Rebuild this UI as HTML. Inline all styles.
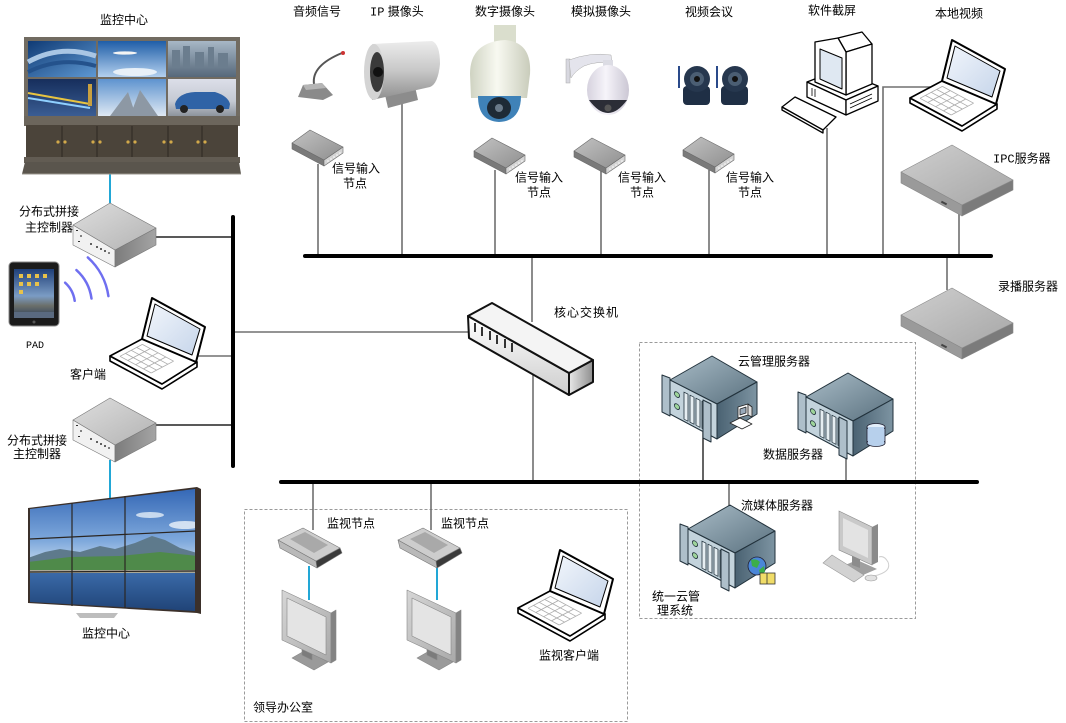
<!DOCTYPE html>
<html><head><meta charset="utf-8">
<style>
html,body{margin:0;padding:0;background:#fff;}
svg{display:block;}
text{font-family:"Liberation Sans","Noto Sans CJK SC",sans-serif;font-size:12px;fill:#000;}
.m{font-family:"Liberation Mono","Noto Sans CJK SC",monospace;}
</style></head><body>
<svg width="1066" height="723" viewBox="0 0 1066 723" xmlns="http://www.w3.org/2000/svg">
<defs>
<linearGradient id="gScreen" x1="0" y1="0" x2="1" y2="1"><stop offset="0" stop-color="#f2f6fc"/><stop offset="1" stop-color="#c6d5ea"/></linearGradient>
<linearGradient id="gSrvTop" x1="0" y1="0" x2="1" y2="1"><stop offset="0" stop-color="#a9bcc7"/><stop offset="1" stop-color="#5a717f"/></linearGradient>
<linearGradient id="gSrvRight" x1="0" y1="0" x2="1" y2="0"><stop offset="0" stop-color="#4a6272"/><stop offset="1" stop-color="#7d94a2"/></linearGradient>
<linearGradient id="gNodeTop" x1="0" y1="0" x2="1" y2="1"><stop offset="0" stop-color="#c2c2c2"/><stop offset="1" stop-color="#8f8f8f"/></linearGradient>
<linearGradient id="gSlabTop" x1="0" y1="0" x2="1" y2="1"><stop offset="0" stop-color="#cfcfcf"/><stop offset="1" stop-color="#a6a6a6"/></linearGradient>
<linearGradient id="gCtrlTop" x1="0" y1="0" x2="1" y2="1"><stop offset="0" stop-color="#dedede"/><stop offset="1" stop-color="#b3b3b3"/></linearGradient>
<linearGradient id="gCtrlR" x1="0" y1="0" x2="1" y2="0"><stop offset="0" stop-color="#7c7c7c"/><stop offset="1" stop-color="#a4a4a4"/></linearGradient>
<linearGradient id="gSwFront" x1="0" y1="0" x2="0" y2="1"><stop offset="0" stop-color="#ffffff"/><stop offset="1" stop-color="#cdcdcd"/></linearGradient>
<linearGradient id="gSwEnd" x1="0" y1="0" x2="1" y2="0"><stop offset="0" stop-color="#e8e8e8"/><stop offset="1" stop-color="#8e8e8e"/></linearGradient>
<linearGradient id="gSky" x1="0" y1="0" x2="0" y2="1"><stop offset="0" stop-color="#2f63b3"/><stop offset="0.7" stop-color="#7fa9dc"/><stop offset="1" stop-color="#c4d8ee"/></linearGradient>
<linearGradient id="gWater" x1="0" y1="0" x2="0" y2="1"><stop offset="0" stop-color="#3a6aa8"/><stop offset="1" stop-color="#1b3c6e"/></linearGradient>
<linearGradient id="gCam" x1="0" y1="0" x2="0" y2="1"><stop offset="0" stop-color="#ececec"/><stop offset="0.5" stop-color="#c8c8c8"/><stop offset="1" stop-color="#8e8e8e"/></linearGradient>
<linearGradient id="gDome" x1="0" y1="0" x2="1" y2="0"><stop offset="0" stop-color="#cfd3c2"/><stop offset="0.45" stop-color="#f8f9f1"/><stop offset="1" stop-color="#c9ccbb"/></linearGradient>
<linearGradient id="gDome2" x1="0" y1="0" x2="1" y2="0"><stop offset="0" stop-color="#d6d2de"/><stop offset="0.45" stop-color="#f6f4fa"/><stop offset="1" stop-color="#cbc7d4"/></linearGradient>
<linearGradient id="gPad" x1="0" y1="0" x2="0" y2="1"><stop offset="0" stop-color="#1f3f78"/><stop offset="0.55" stop-color="#7b9cc4"/><stop offset="0.75" stop-color="#6b6f6a"/><stop offset="1" stop-color="#2a3d5c"/></linearGradient>
<linearGradient id="gMon" x1="0" y1="0" x2="1" y2="1"><stop offset="0" stop-color="#d6d6d6"/><stop offset="1" stop-color="#a9a9a9"/></linearGradient>
<clipPath id="cWall"><polygon points="30,509 195,489 195,611 30,602"/></clipPath>

<g id="laptop" stroke="#000" stroke-linejoin="round">
 <polygon points="0,58 52,86 87,64 87,69 52,91 0,63" fill="#fff" stroke-width="1.6"/>
 <polygon points="0,58 32,41 87,64 52,86" fill="#fff" stroke-width="1.6"/>
 <g stroke="#aaa" stroke-width="0.8" fill="none">
  <line x1="10" y1="58.3" x2="41.2" y2="75"/><line x1="15.4" y1="55.4" x2="46.6" y2="72.2"/>
  <line x1="21.2" y1="52.3" x2="52.4" y2="69.1"/><line x1="26.6" y1="49.4" x2="57.8" y2="66.2"/>
  <line x1="32.4" y1="46.4" x2="63.6" y2="63.2"/>
  <line x1="10" y1="58.3" x2="32.4" y2="46.4"/><line x1="17.8" y1="62.5" x2="40.2" y2="50.6"/>
  <line x1="25.6" y1="66.7" x2="48" y2="54.8"/><line x1="33.4" y1="70.9" x2="55.8" y2="59"/>
  <line x1="41.2" y1="75" x2="63.6" y2="63.2"/>
 </g>
 <polygon points="32,41 42,0 95,29 86,64" fill="#fff" stroke-width="2"/>
 <polygon points="37,38 45,6 90,31 82,57" fill="url(#gScreen)" stroke-width="1"/>
</g>

<g id="server" stroke="#22323c" stroke-width="1" stroke-linejoin="round">
 <polygon points="8,24 50,0 95,26 55,48" fill="url(#gSrvTop)"/>
 <polygon points="55,48 95,26 95,58 55,83" fill="url(#gSrvRight)"/>
 <polygon points="8,24 55,48 55,83 8,58" fill="#c3d3dc"/>
 <g transform="matrix(1,0.51,0,1,8,24)" stroke-width="0.8">
  <circle cx="7" cy="11" r="2.6" fill="#9ed49a"/>
  <circle cx="7" cy="23" r="2.6" fill="#9ed49a"/>
  <rect x="14" y="5" width="4" height="27" fill="#e6eef2"/>
  <rect x="20" y="5" width="4" height="27" fill="#e6eef2"/>
  <rect x="26" y="5" width="4" height="27" fill="#e6eef2"/>
  <rect x="32" y="5" width="4" height="27" fill="#e6eef2"/>
 </g>
 <polygon points="0,19 8,22 8,60 0,56" fill="#aebfca"/>
 <polygon points="41,44 49,48 49,86 41,82" fill="#aebfca"/>
</g>

<g id="node" stroke="#6a6a6a" stroke-width="0.6" stroke-linejoin="round">
 <polygon points="0,13 32,30 32,36 0,19" fill="#7a7a7a"/>
 <polygon points="32,30 51,17 51,23 32,36" fill="#d4d4d4"/>
 <polygon points="18,0 51,17 32,30 0,13" fill="url(#gNodeTop)"/>
 <g fill="#fff" stroke="none"><circle cx="36" cy="31" r="0.8"/><circle cx="39" cy="29" r="0.8"/><circle cx="42" cy="27" r="0.8"/><circle cx="45" cy="25" r="0.8"/><circle cx="48" cy="23" r="0.8"/></g>
</g>

<g id="slab" stroke="#888" stroke-width="0.6" stroke-linejoin="round">
 <polygon points="0,27 61,60 61,71 0,38" fill="#9a9a9a"/>
 <polygon points="61,60 112,35 112,45 61,71" fill="#7b7b7b"/>
 <polygon points="51,0 112,35 61,60 0,27" fill="url(#gSlabTop)"/>
 <rect x="40" y="57" width="6" height="2" fill="#444" stroke="none" transform="rotate(28 43 58)"/>
</g>

<g id="ctrl" stroke="#777" stroke-width="0.6" stroke-linejoin="round">
 <polygon points="0,22 42,47 42,64 0,42" fill="#f1f1f1"/>
 <polygon points="42,47 83,25 83,42 42,64" fill="url(#gCtrlR)"/>
 <polygon points="37,0 83,25 42,47 0,22" fill="url(#gCtrlTop)"/>
 <g fill="#333" stroke="none"><circle cx="8" cy="33" r="0.9"/><circle cx="18" cy="41" r="1"/><circle cx="24" cy="44" r="1"/><circle cx="28" cy="46" r="1"/><circle cx="32" cy="48" r="1"/><circle cx="36" cy="50" r="0.9"/><rect x="3" y="27" width="2" height="1"/><rect x="5" y="38" width="2" height="1"/></g>
</g>

<g id="mnode" stroke="#777" stroke-width="0.6" stroke-linejoin="round">
 <polygon points="0,12 38,33 39,40 2,20" fill="#b9b9b9"/>
 <polygon points="38,33 62,20 64,25 39,40" fill="#3a3a3a"/>
 <polygon points="0,12 25,0 62,20 38,33" fill="#cdcdcd"/>
 <polygon points="12,11 27,4 50,17 36,25" fill="#a9a9a9" stroke="none"/>
</g>

<g id="monitor" stroke="#888" stroke-width="0.6" stroke-linejoin="round">
 <polygon points="10,70 24,62 46,74 32,82" fill="#9a9a9a"/>
 <polygon points="20,56 30,61 30,72 20,67" fill="#7c7c7c"/>
 <polygon points="0,2 49,25 49,75 0,52" fill="url(#gMon)"/>
 <polygon points="49,25 54,22 54,72 49,75" fill="#838383"/>
 <polygon points="5,10 44,29 44,67 5,48" fill="#e4e4e4"/>
</g>
</defs>

<!-- dashed boxes -->
<rect x="639.5" y="342.5" width="276" height="276" fill="none" stroke="#9a9a9a" stroke-dasharray="3,2"/>
<rect x="244.5" y="509.5" width="383" height="212" fill="none" stroke="#9a9a9a" stroke-dasharray="3,2"/>

<!-- connectors -->
<g stroke="#707070" stroke-width="1.6" fill="none">
 <line x1="318" y1="164" x2="318" y2="256"/>
 <line x1="402" y1="104" x2="402" y2="256"/>
 <line x1="495" y1="170" x2="495" y2="256"/>
 <line x1="601" y1="170" x2="601" y2="256"/>
 <line x1="709" y1="170" x2="709" y2="256"/>
 <line x1="827" y1="128" x2="827" y2="256"/>
 <polyline points="883,256 883,87 930,87"/>
 <line x1="959" y1="212" x2="959" y2="256"/>
 <line x1="947" y1="256" x2="947" y2="290"/>
 <line x1="532" y1="256" x2="532" y2="322"/>
 <line x1="533" y1="372" x2="533" y2="482"/>
 <line x1="198" y1="356" x2="233" y2="356"/>
 <line x1="233" y1="332" x2="470" y2="332"/>
 <line x1="313" y1="482" x2="313" y2="530"/>
 <line x1="431" y1="482" x2="431" y2="530"/>
 <line x1="846" y1="450" x2="846" y2="482"/>
 <line x1="729" y1="482" x2="729" y2="508"/>
</g>
<g stroke="#222" stroke-width="1.4">
 <line x1="155" y1="237" x2="233" y2="237"/>
 <line x1="155" y1="425" x2="233" y2="425"/>
 <line x1="703" y1="432" x2="703" y2="482"/>
</g>
<g stroke="#22a7d6" stroke-width="2">
 <line x1="110" y1="174" x2="110" y2="206"/>
 <line x1="110" y1="460" x2="110" y2="499"/>
 <line x1="309" y1="566" x2="309" y2="600"/>
 <line x1="437" y1="566" x2="437" y2="600"/>
</g>
<g stroke="#000" stroke-width="4" stroke-linecap="round">
 <line x1="305" y1="256" x2="991" y2="256"/>
 <line x1="233" y1="217" x2="233" y2="466"/>
 <line x1="281" y1="482" x2="977" y2="482"/>
</g>

<!-- top-left video wall -->
<rect x="24" y="37" width="216" height="84" fill="#716b61"/>
<linearGradient id="s1" x1="0" y1="0" x2="1" y2="1"><stop offset="0" stop-color="#0f3a74"/><stop offset="1" stop-color="#5e98d2"/></linearGradient>
<rect x="28" y="41" width="68" height="36" fill="url(#s1)"/>
<path d="M28,62 Q60,44 96,56" stroke="#a9c6e4" stroke-width="5" fill="none"/>
<path d="M28,72 Q60,56 96,66" stroke="#24528c" stroke-width="4" fill="none"/>
<linearGradient id="s2" x1="0" y1="0" x2="0" y2="1"><stop offset="0" stop-color="#1f5ea8"/><stop offset="1" stop-color="#b3d0ee"/></linearGradient>
<rect x="98" y="41" width="68" height="36" fill="url(#s2)"/>
<ellipse cx="125" cy="53" rx="12" ry="1.6" fill="#f4f4f4"/>
<ellipse cx="135" cy="72" rx="22" ry="4" fill="#e8f0f8"/>
<linearGradient id="s3" x1="0" y1="0" x2="0" y2="1"><stop offset="0" stop-color="#a7b7c6"/><stop offset="1" stop-color="#56687a"/></linearGradient>
<rect x="168" y="41" width="68" height="36" fill="url(#s3)"/>
<g fill="#6b7d8e"><rect x="172" y="50" width="8" height="18"/><rect x="183" y="46" width="7" height="22"/><rect x="195" y="52" width="9" height="16"/><rect x="208" y="47" width="6" height="21"/><rect x="218" y="53" width="10" height="15"/></g>
<linearGradient id="s4" x1="0" y1="0" x2="0" y2="1"><stop offset="0" stop-color="#162e5c"/><stop offset="1" stop-color="#3a5d93"/></linearGradient>
<rect x="28" y="79" width="68" height="37" fill="url(#s4)"/>
<path d="M28,93 L90,104" stroke="#e8c440" stroke-width="2"/><path d="M28,98 L90,108" stroke="#8fd0ff" stroke-width="2"/>
<rect x="88" y="84" width="4" height="22" fill="#c8a040"/>
<linearGradient id="s5" x1="0" y1="0" x2="0" y2="1"><stop offset="0" stop-color="#5e93cf"/><stop offset="1" stop-color="#dfe9f3"/></linearGradient>
<rect x="98" y="79" width="68" height="37" fill="url(#s5)"/>
<path d="M110,116 L128,92 L136,116 Z M130,116 L140,90 L158,116 Z" fill="#8d98a4"/>
<linearGradient id="s6" x1="0" y1="0" x2="0" y2="1"><stop offset="0" stop-color="#dcdfe9"/><stop offset="0.6" stop-color="#c4c9d2"/><stop offset="1" stop-color="#8d949d"/></linearGradient>
<rect x="168" y="79" width="68" height="37" fill="url(#s6)"/>
<path d="M175,104 Q178,93 195,92 L215,92 Q228,96 230,104 L229,109 L176,109 Z" fill="#2f63a6"/>
<circle cx="184" cy="109" r="4" fill="#222"/><circle cx="220" cy="109" r="4" fill="#222"/>
<rect x="24" y="116" width="216" height="10" fill="#6c665c"/>
<rect x="26" y="125" width="212" height="33" fill="#4b443a"/>
<g stroke="#2d2822" stroke-width="1"><line x1="62" y1="126" x2="62" y2="157"/><line x1="97" y1="126" x2="97" y2="157"/><line x1="132" y1="126" x2="132" y2="157"/><line x1="168" y1="126" x2="168" y2="157"/><line x1="202" y1="126" x2="202" y2="157"/></g>
<g fill="#d2a94a"><circle cx="58" cy="142" r="1.6"/><circle cx="65" cy="142" r="1.6"/><circle cx="93" cy="142" r="1.6"/><circle cx="100" cy="142" r="1.6"/><circle cx="128" cy="142" r="1.6"/><circle cx="135" cy="142" r="1.6"/><circle cx="164" cy="142" r="1.6"/><circle cx="171" cy="142" r="1.6"/><circle cx="198" cy="142" r="1.6"/><circle cx="205" cy="142" r="1.6"/></g>
<rect x="24" y="157" width="216" height="6" fill="#625c53"/>
<polygon points="25,162 239,162 241,174 22,174" fill="#5a554d"/>
<line x1="22" y1="174" x2="241" y2="174" stroke="#9a958c" stroke-width="1"/>

<!-- controllers -->
<use href="#ctrl" x="73" y="203"/>
<use href="#ctrl" x="73" y="398"/>

<!-- PAD -->
<rect x="9" y="262" width="50" height="64" rx="4" fill="#1b1b1b" stroke="#8a8a8a" stroke-width="1"/>
<rect x="14" y="269" width="40" height="49" fill="url(#gPad)"/>
<g fill="#e8c24a"><rect x="19" y="274" width="4" height="4"/><rect x="27" y="274" width="4" height="4"/><rect x="35" y="274" width="4" height="4"/><rect x="43" y="274" width="4" height="4"/><rect x="19" y="282" width="4" height="4"/><rect x="27" y="282" width="4" height="4"/><rect x="35" y="282" width="4" height="4"/><rect x="19" y="290" width="4" height="4"/></g>
<rect x="14" y="312" width="40" height="6" fill="#5a6a80"/>
<circle cx="34" cy="322" r="1.5" fill="#555"/>
<g stroke="#6f6ff0" stroke-width="2.5" fill="none" stroke-linecap="round">
 <path d="M87.8,257.4 A64,64 0 0 1 108.4,296.1"/>
 <path d="M76.4,270.1 A47,47 0 0 1 91.5,298.5"/>
 <path d="M65.1,282.7 A30,30 0 0 1 74.7,300.8"/>
</g>

<!-- laptops -->
<use href="#laptop" x="110" y="298"/>
<use href="#laptop" x="910" y="40"/>
<use href="#laptop" x="518" y="550"/>

<!-- bottom-left video wall -->
<polygon points="28,508 197,487 201,489 201,614 197,613 28,603" fill="#3b302a"/>
<g clip-path="url(#cWall)">
 <rect x="28" y="485" width="175" height="80" fill="url(#gSky)"/>
 <ellipse cx="150" cy="515" rx="14" ry="3" fill="#e4eef8" opacity="0.8"/>
 <ellipse cx="185" cy="525" rx="16" ry="4" fill="#eef4fa" opacity="0.8"/>
 <path d="M28,558 L45,552 L60,549 L80,552 L100,546 L115,549 L135,543 L152,536 L165,540 L180,548 L197,553 L197,568 L28,568 Z" fill="#5e7a8c"/>
 <path d="M28,562 L70,557 L120,556 L160,552 L197,556 L197,574 L28,574 Z" fill="#4f8a4a"/>
 <rect x="28" y="570" width="170" height="3" fill="#a9a99a"/>
 <rect x="28" y="573" width="170" height="45" fill="url(#gWater)"/>
</g>
<g stroke="#2b2622" stroke-width="1.2">
 <line x1="72" y1="503" x2="72" y2="606"/>
 <line x1="125" y1="496" x2="125" y2="608"/>
 <line x1="30" y1="539" x2="196" y2="531"/>
 <line x1="30" y1="572" x2="196" y2="571"/>
</g>
<polygon points="76,613 118,613 114,618 80,618" fill="#bdbdbd"/>

<!-- top devices -->
<!-- microphone -->
<path d="M314,84 C312,70 325,60 342,53" stroke="#555" stroke-width="2" fill="none"/>
<circle cx="343" cy="53" r="2" fill="#c33"/>
<polygon points="303,85 322,83 333,95 323,100 298,97" fill="#8a8a8a"/>
<polygon points="303,85 322,83 326,88 306,90" fill="#b5b5b5"/>
<!-- IP camera -->
<polygon points="383,86 414,82 418,100 388,108" fill="#8c8c8c"/>
<path d="M372,44 L432,41 Q440,44 440,64 Q438,84 430,87 L372,100 Z" fill="url(#gCam)"/>
<ellipse cx="374" cy="72" rx="10" ry="28" fill="#d4d4d4"/>
<ellipse cx="377" cy="72" rx="7" ry="20" fill="#3a3a3a"/>
<circle cx="378" cy="72" r="5" fill="#111"/>
<!-- dome camera -->
<rect x="494" y="25" width="22" height="22" fill="#dadecd"/>
<path d="M470,74 Q470,42 505,40 Q532,42 530,74 L527,98 L471,98 Z" fill="url(#gDome)"/>
<path d="M478,96 L521,96 Q521,121 499,122 Q478,121 478,96 Z" fill="#3f82b8"/>
<ellipse cx="499" cy="108" rx="12" ry="11" fill="#1e2a36"/>
<circle cx="499" cy="108" r="4" fill="#6a7a8a"/>
<!-- analog PTZ -->
<rect x="566" y="59" width="4" height="24" fill="#d8d8e0" stroke="#aaa" stroke-width="0.5"/>
<path d="M569,60 Q590,52 611,55 L612,63 Q596,61 584,66 Q575,71 571,78 Z" fill="#e4e4ec" stroke="#aaa" stroke-width="0.5"/>
<rect x="603" y="60" width="10" height="8" fill="#dcdce4"/>
<ellipse cx="608" cy="90" rx="21" ry="25" fill="url(#gDome2)"/>
<path d="M589,100 Q608,126 627,100 Z" fill="#2b2d36"/>
<circle cx="608" cy="108" r="3.5" fill="#555"/>
<!-- video conference cams -->
<g>
 <line x1="679" y1="66" x2="679" y2="88" stroke="#2a4a8a" stroke-width="2"/>
 <rect x="683" y="86" width="27" height="19" rx="4" fill="#1f2f45"/>
 <circle cx="697" cy="79" r="13" fill="#26374e"/>
 <circle cx="697" cy="79" r="7" fill="#4b5e73"/>
 <circle cx="697" cy="79" r="3" fill="#111"/>
 <line x1="717" y1="66" x2="717" y2="88" stroke="#2a4a8a" stroke-width="2"/>
 <rect x="721" y="86" width="27" height="19" rx="4" fill="#1f2f45"/>
 <circle cx="735" cy="79" r="13" fill="#26374e"/>
 <circle cx="735" cy="79" r="7" fill="#4b5e73"/>
 <circle cx="735" cy="79" r="3" fill="#111"/>
</g>
<!-- signal nodes -->
<use href="#node" x="292" y="130"/>
<use href="#node" x="474" y="138"/>
<use href="#node" x="574" y="138"/>
<use href="#node" x="683" y="137"/>
<!-- PC line art -->
<g stroke="#000" stroke-width="1.3" fill="#fff" stroke-linejoin="round">
 <polygon points="807,82 838,70 878,86 846,100"/>
 <polygon points="807,82 846,100 846,115 807,97"/>
 <polygon points="846,100 878,86 878,101 846,115"/>
 <polygon points="838,38 862,32 872,44 846,52"/>
 <polygon points="846,52 872,44 872,84 846,95"/>
 <polygon points="815,42 838,38 846,52 846,95 815,82"/>
 <polygon points="820,49 842,58 842,89 820,79" fill="#dfe8f2" stroke-width="1"/>
 <polygon points="782,107 795,97 836,117 823,130"/>
 <polygon points="782,107 823,130 823,133 782,110"/>
</g>
<g stroke="#000" stroke-width="0.8"><line x1="850" y1="104" x2="872" y2="94"/><line x1="850" y1="108" x2="872" y2="98"/><line x1="812" y1="88" x2="812" y2="96"/><line x1="815" y1="89" x2="815" y2="97"/></g>
<!-- IPC & recording servers -->
<use href="#slab" x="901" y="145"/>
<use href="#slab" x="901" y="288"/>

<!-- core switch -->
<g stroke="#111" stroke-width="2" stroke-linejoin="round">
 <polygon points="468,316 569,373 569,395 469,338" fill="url(#gSwFront)"/>
 <polygon points="569,373 593,360 593,382 569,395" fill="url(#gSwEnd)"/>
 <polygon points="468,316 492,303 593,360 569,373" fill="#f4f4f4"/>
</g>
<g fill="#333"><rect x="474" y="323" width="2" height="9"/><rect x="481" y="327" width="2" height="9"/><rect x="489" y="331" width="2" height="9"/><rect x="496" y="335" width="2" height="9"/><rect x="504" y="339" width="2" height="9"/><rect x="511" y="343" width="2" height="9"/></g>

<!-- cloud servers -->
<use href="#server" x="662" y="356"/>
<use href="#server" x="798" y="373"/>
<use href="#server" x="680" y="505"/>
<!-- small pc icon -->
<g stroke="#222" stroke-width="0.8" stroke-linejoin="round">
 <polygon points="738,407 748,404 748,415 738,418" fill="#fff"/>
 <polygon points="740,409 746,407 746,413 740,415" fill="#9ab"/>
 <polygon points="748,404 752,407 752,417 748,415" fill="#ddd"/>
 <polygon points="730,423 740,418 752,424 742,429" fill="#fff"/>
</g>
<!-- DB cylinder -->
<g stroke="#223" stroke-width="0.8">
 <rect x="867" y="427" width="18" height="16" fill="#b7d0ec"/>
 <ellipse cx="876" cy="443" rx="9" ry="3.5" fill="#b7d0ec"/>
 <ellipse cx="876" cy="427" rx="9" ry="3.5" fill="#e2eefa"/>
 <rect x="868" y="427" width="16" height="15" fill="#b7d0ec" stroke="none"/>
</g>
<!-- globe + folder -->
<circle cx="757" cy="566" r="9" fill="#4a86d8" stroke="#223" stroke-width="0.8"/>
<path d="M751,560 Q756,558 760,562 L757,568 L752,566 Z M759,570 L764,566 L765,572 L760,574 Z" fill="#3cae4a"/>
<rect x="760" y="573" width="15" height="11" fill="#f0dc68" stroke="#333" stroke-width="0.8"/>
<line x1="767" y1="573" x2="767" y2="584" stroke="#333" stroke-width="0.8"/>
<!-- desktop -->
<polygon points="843,566 857,560 877,569 863,575" fill="#a0a0a0"/>
<polygon points="852,553 860,556 860,568 852,565" fill="#8c8c8c"/>
<polygon points="839,511 872,527 872,565 839,550" fill="#c9c9c9" stroke="#8a8a8a" stroke-width="0.6"/>
<polygon points="872,527 878,524 878,562 872,565" fill="#8a8a8a"/>
<polygon points="843,518 868,530 868,558 843,546" fill="#e3e3e3"/>
<polygon points="823,563 832,555 864,575 854,582" fill="#d2d2d2" stroke="#999" stroke-width="0.6"/>
<path d="M874,576 Q892,572 888,562 Q884,555 879,557" stroke="#cfcfcf" stroke-width="1" fill="none"/>
<ellipse cx="871" cy="578" rx="6" ry="3" fill="#e2e2e2" stroke="#999" stroke-width="0.6"/>

<!-- office -->
<use href="#mnode" x="278" y="528"/>
<use href="#mnode" x="398" y="528"/>
<use href="#monitor" x="282" y="588"/>
<use href="#monitor" x="407" y="588"/>

<!-- labels -->
<text x="100" y="24">监控中心</text>
<text x="293" y="15.5">音频信号</text>
<text x="370" y="15.5"><tspan class="m">IP</tspan> 摄像头</text>
<text x="475" y="15.5">数字摄像头</text>
<text x="571" y="15.5">模拟摄像头</text>
<text x="685" y="16">视频会议</text>
<text x="808" y="14.5">软件截屏</text>
<text x="935" y="17.5">本地视频</text>
<text x="332" y="172.5">信号输入</text><text x="343" y="187.5">节点</text>
<text x="515" y="181.5">信号输入</text><text x="527" y="196.5">节点</text>
<text x="618" y="181.5">信号输入</text><text x="630" y="196.5">节点</text>
<text x="726" y="181.5">信号输入</text><text x="738" y="196.5">节点</text>
<text x="993" y="162.5"><tspan class="m">IPC</tspan>服务器</text>
<text x="998" y="290.5">录播服务器</text>
<text x="554" y="316.5" letter-spacing="1">核心交换机</text>
<text x="738" y="365.5">云管理服务器</text>
<text x="763" y="458.5">数据服务器</text>
<text x="741" y="509.5">流媒体服务器</text>
<text x="652" y="600.5">统一云管</text>
<text x="657" y="614.5">理系统</text>
<text x="19" y="215.5">分布式拼接</text>
<text x="25" y="231.5">主控制器</text>
<text x="26" y="348" class="m" style="font-size:10px">PAD</text>
<text x="70" y="378.5">客户端</text>
<text x="7" y="444.5">分布式拼接</text>
<text x="13" y="458">主控制器</text>
<text x="82" y="637.5">监控中心</text>
<text x="327" y="527.5">监视节点</text>
<text x="441" y="527.5">监视节点</text>
<text x="539" y="659.5">监视客户端</text>
<text x="253" y="711.5">领导办公室</text>
</svg>
</body></html>
